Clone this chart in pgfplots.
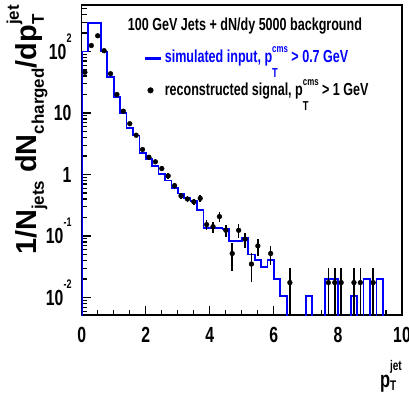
\documentclass[border=0pt]{standalone}
\usepackage{fontspec}
\setmainfont{Liberation Sans}[FakeStretch=0.72]
\newfontfamily\ylabfont{Liberation Sans}
\usepackage{pgfplots}
\pgfplotsset{compat=1.18}
\definecolor{rootblue}{RGB}{0,0,255}
% stacked subscript/superscript: #1 sub, #2 sup, #3 lower, #4 raise
\newcommand\ssp[4]{\makebox[0pt][l]{\raisebox{-#3}{#1}}\raisebox{#4}{#2}}
\newcommand\sups[1]{\smash{\raisebox{17bp}{\fontsize{12.5}{12.5}\selectfont #1}}}
\newcommand\fs[1]{\fontsize{#1}{#1}\selectfont}

\pgfplotstableread{
x y
0.0 0.0001
0.0 100
0.2 290
0.4 290
0.6 100
0.8 38
1.0 18
1.2 10
1.4 5.7
1.6 4.3
1.8 2.25
2.0 1.8
2.2 1.38
2.4 1.03
2.6 0.8
2.8 0.61
3.0 0.49
3.2 0.42
3.4 0.37
3.6 0.265
3.8 0.135
4.0 0.135
4.2 0.135
4.4 0.13
4.6 0.082
4.8 0.082
5.0 0.093
5.2 0.05
5.4 0.041
5.6 0.031
5.8 0.041
6.0 0.02
6.2 0.0105
6.4 0.0001
6.6 0.0001
6.8 0.0001
7.0 0.0105
7.2 0.0001
7.4 0.0001
7.6 0.02
7.8 0.02
8.0 0.0001
8.2 0.0001
8.4 0.0105
8.6 0.0001
8.8 0.02
9.0 0.0001
9.2 0.02
9.4 0.0001
9.6 0.0001
9.8 0.0001
10.0 0.0001
}\histtable

\pgfplotstableread{
x y e
0.1 46 3
0.3 125 6
0.5 180 8
0.7 103 5
0.9 43.5 2.5
1.1 20 1.4
1.3 10.7 0.8
1.5 6.7 0.5
1.7 4.35 0.35
1.9 2.55 0.22
2.1 1.91 0.16
2.3 1.61 0.14
2.5 1.25 0.11
2.7 0.95 0.09
2.9 0.66 0.07
3.1 0.45 0.05
3.3 0.40 0.045
3.5 0.36 0.04
3.7 0.41 0.05
3.9 0.153 0.03
4.1 0.142 0.03
4.3 0.207 0.035
4.5 0.124 0.028
4.7 0.052 0.025
4.9 0.124 0.03
5.1 0.089 0.025
5.3 0.035 0.017
5.5 0.069 0.022
5.9 0.052 0.018
6.5 0.0175 0.0125
7.7 0.0175 0.0125
7.9 0.0175 0.0125
8.1 0.0175 0.0125
8.5 0.0175 0.0125
8.7 0.0175 0.0125
9.1 0.0175 0.0125
}\datatable

\begin{document}
\begin{tikzpicture}
\begin{axis}[
  scale only axis,
  width=320.3bp, height=310bp,
  at={(0,0)}, anchor=south west,
  xmin=0, xmax=10,
  ymode=log, ymin=0.0052, ymax=570,
  axis line style={line width=1.2bp},
  tick pos=left,
  tick align=inside,
  tick style={line width=1.1bp, black},
  major tick length=9bp, minor tick length=5bp,
  xtick={0,2,4,6,8,10},
  xticklabels={0,2,4,6,8,10},
  minor x tick num=3,
  ytick={0.01,0.1,1,10,100},
  yticklabels={10\sups{-2},10\sups{-1},1,10,10\sups{2}},
  minor ytick={0.006,0.007,0.008,0.009,0.02,0.03,0.04,0.05,0.06,0.07,0.08,0.09,0.2,0.3,0.4,0.5,0.6,0.7,0.8,0.9,2,3,4,5,6,7,8,9,20,30,40,50,60,70,80,90,200,300,400,500},
  tick label style={font=\fs{22}\bfseries},
  xticklabel style={anchor=north, inner sep=0pt, yshift=-12bp},
  yticklabel style={anchor=east, inner sep=0pt, xshift=-10bp},
  xlabel={\fs{23}\bfseries p\ssp{\fs{14}T}{\fs{14}jet}{3bp}{17bp}},
  xlabel style={at={(rel axis cs:1,0)}, anchor=base east, yshift=-72bp, inner sep=0pt},
  ylabel={\ylabfont\fs{29}\bfseries 1/N\raisebox{-7bp}{\fs{17}jets} dN\raisebox{-7bp}{\fs{17}charged}/dp\ssp{\fs{17}T}{\fs{17}jet}{7bp}{18bp}},
  ylabel style={at={(rel axis cs:-0.1396,1)}, anchor=base east, inner sep=0pt},
  legend style={at={(rel axis cs:0.1945,0.873)}, anchor=north west, draw=none, fill=none,
    inner sep=0pt, row sep=12bp, font=\fs{17.5}\bfseries,
    cells={anchor=base west},
    /tikz/every even column/.append style={column sep=4bp}},
  clip=true,
]
\addplot[rootblue, line width=1.7bp, const plot mark left, mark=none,
  legend image code/.code={\draw[rootblue, line width=2.6bp] (0bp,4bp) -- (16bp,4bp);}]
  table[x=x,y=y] {\histtable};
\addlegendentry{\color{rootblue}simulated input, p\ssp{\fs{13}T}{\fs{11}cms}{15bp}{10bp} > 0.7 GeV}
\addplot[black, only marks, mark=*, mark size=2.4bp,
  legend image code/.code={\draw[black, fill=black, mark=*, mark size=2.8bp, only marks] plot coordinates {(5bp,5.5bp)};},
  error bars/.cd, y dir=both, y explicit, error mark=none,
  error bar style={line width=1.6bp, black}]
  table[x=x,y=y,y error=e] {\datatable};
\addlegendentry{reconstructed signal, p\ssp{\fs{13}T}{\fs{11}cms}{15bp}{10bp} > 1 GeV}
\node[anchor=base, font=\fs{17.5}\bfseries, inner sep=0pt] at (rel axis cs:0.5098,0.919) {100 GeV Jets + dN/dy 5000 background};
\end{axis}
\pgfresetboundingbox
\path[use as bounding box] (-81.7bp,-83bp) rectangle (327.3bp,315bp);
\end{tikzpicture}
\end{document}
